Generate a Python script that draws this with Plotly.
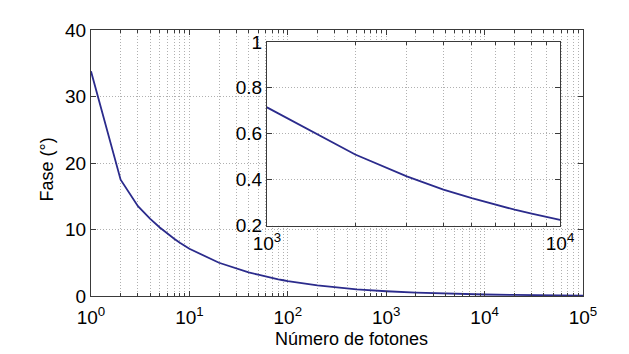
import plotly.graph_objects as go

# Data
photons = [1, 2, 3, 4, 5, 6, 7, 8, 9, 10,
           20, 30, 40, 50, 60, 70, 80, 90, 100,
           200, 300, 400, 500, 600, 700, 800, 900, 1000,
           2000, 3000, 4000, 5000, 6000, 7000, 8000, 9000, 10000,
           20000, 30000, 40000, 50000, 60000, 70000, 80000, 90000, 100000]
phase_deg = [33.8, 17.5, 13.5, 11.6, 10.3, 9.3, 8.6, 8.0, 7.5, 7.1,
             5.0, 4.1, 3.55, 3.2, 2.9, 2.7, 2.5, 2.37, 2.25,
             1.6, 1.3, 1.12, 1.0, 0.92, 0.85, 0.8, 0.75, 0.715,
             0.51, 0.415, 0.357, 0.32, 0.292, 0.27, 0.253, 0.238, 0.226,
             0.16, 0.13, 0.113, 0.1, 0.092, 0.085, 0.08, 0.075, 0.071]

main_xticks = [1, 10, 100, 1000, 10000, 100000]
main_xticktext = ["10<sup>0</sup>", "10<sup>1</sup>", "10<sup>2</sup>",
                  "10<sup>3</sup>", "10<sup>4</sup>", "10<sup>5</sup>"]
main_yticks = [0, 10, 20, 30, 40]
inset_xticks = [1000, 10000]
inset_xticktext = ["10<sup>3</sup>", "10<sup>4</sup>"]
inset_yticks = [0.2, 0.4, 0.6, 0.8, 1.0]
inset_yticktext = ["0.2", "0.4", "0.6", "0.8", "1"]

x_title = "Número de fotones"
y_title = "Fase (°)"

LINE = "#2b2b8c"
GRID = "#b0b0b0"
AX = "#3a3a3a"
FONT = "Liberation Sans, Arial, sans-serif"
DASH = "1px,2px"

fig = go.Figure()
fig.add_trace(go.Scatter(x=photons, y=phase_deg, mode="lines",
                         line=dict(color=LINE, width=1.8), xaxis="x", yaxis="y",
                         showlegend=False, hoverinfo="skip"))
fig.add_trace(go.Scatter(x=photons, y=phase_deg, mode="lines",
                         line=dict(color=LINE, width=1.8), xaxis="x2", yaxis="y2",
                         showlegend=False, hoverinfo="skip"))

common = dict(showline=True, linecolor=AX, linewidth=1, mirror="ticks",
              ticks="inside", ticklen=5, tickcolor=AX,
              showgrid=True, gridcolor=GRID, griddash=DASH, gridwidth=1,
              zeroline=False, tickfont=dict(size=19, color="black", family=FONT))
minor_log = dict(dtick="D1", showgrid=True, gridcolor=GRID, griddash=DASH,
                 ticks="inside", ticklen=3, tickcolor=AX)

fig.update_layout(
    width=629, height=354,
    # the page body adds an 8px offset; plot area lands at x 91-583, y 27-296
    margin=dict(l=83, r=54, t=19, b=66),
    paper_bgcolor="white", plot_bgcolor="white",
    font=dict(family=FONT, color="black"),
    xaxis=dict(type="log", range=[0, 5], domain=[0, 1],
               tickvals=main_xticks, ticktext=main_xticktext,
               ticklabelstandoff=4, minor=minor_log, **common),
    yaxis=dict(range=[0, 40], domain=[0, 1], tickvals=main_yticks, **common),
    xaxis2=dict(type="log", range=[3, 4], domain=[0.3577, 0.9533], anchor="y2",
                tickvals=inset_xticks, ticktext=inset_xticktext,
                minor=minor_log, **common),
    yaxis2=dict(range=[0.2, 1.0], domain=[0.2639, 0.9554], anchor="x2",
                tickvals=inset_yticks, ticktext=inset_yticktext, **common),
    shapes=[dict(type="rect", xref="x2 domain", yref="y2 domain",
                 x0=0, x1=1, y0=0, y1=1, fillcolor="white",
                 line=dict(width=0), layer="below")],
    annotations=[
        dict(text=x_title, xref="paper", yref="paper", x=0.5285, y=-0.160,
             xanchor="center", yanchor="middle", showarrow=False,
             font=dict(size=18, family=FONT, color="black")),
        dict(text=y_title, xref="paper", yref="paper", x=-0.0894, y=0.476,
             xanchor="center", yanchor="middle", showarrow=False, textangle=-90,
             font=dict(size=18, family=FONT, color="black")),
    ],
)

fig.write_html("out.html")
